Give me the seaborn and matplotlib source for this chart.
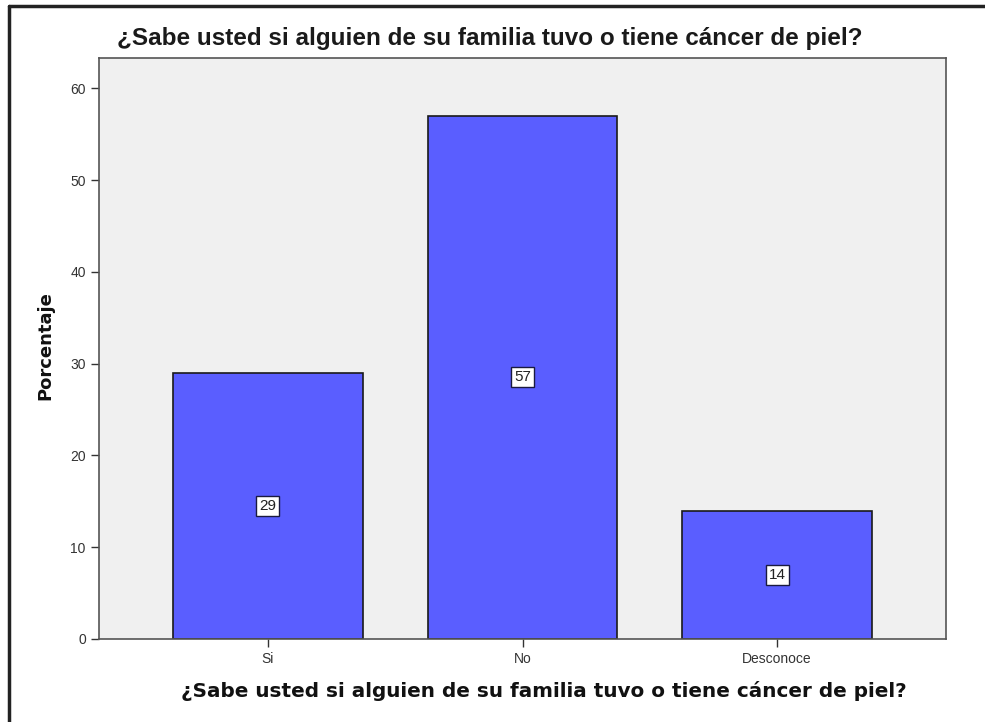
import matplotlib
matplotlib.use("Agg")
import matplotlib.pyplot as plt
import seaborn as sns
import pandas as pd
from matplotlib.lines import Line2D

# data
categories = ["Si", "No", "Desconoce"]
percentages = [29, 57, 14]
y_ticks = [0, 10, 20, 30, 40, 50, 60]

question = "¿Sabe usted si alguien de su familia tuvo o tiene cáncer de piel?"

df = pd.DataFrame({"respuesta": categories, "porcentaje": percentages})

sns.set_style("white")
plt.rcParams["font.family"] = ["Liberation Sans", "DejaVu Sans"]

fig = plt.figure(figsize=(9.85, 7.22), dpi=100)
ax = fig.add_axes([99 / 985, 83 / 722, 847 / 985, 581 / 722])
ax.set_facecolor("#F0F0F0")

sns.barplot(data=df, x="respuesta", y="porcentaje", color="#5A5EFF",
            saturation=1, width=0.745, edgecolor="#1a1a1a", linewidth=1.2, ax=ax)

# value labels in small boxes at half bar height
for i, v in enumerate(percentages):
    ax.text(i, v / 2, str(v), ha="center", va="center", fontsize=11, color="#222222",
            bbox=dict(boxstyle="square,pad=0.2", facecolor="white", edgecolor="#1a1a40", linewidth=1))

ax.set_xlim(-0.663, 2.663)
ax.set_ylim(0, 63.3)
ax.set_yticks(y_ticks)
ax.tick_params(axis="both", length=6, width=1, color="#333333", labelsize=10, labelcolor="#333333",
               direction="out", bottom=True, left=True)
for s in ax.spines.values():
    s.set_color("#555555")
    s.set_linewidth(1.2)

ax.set_xlabel(question, fontsize=14.4, fontweight="bold",
              family=["DejaVu Sans"], color="#111111")
ax.set_ylabel("Porcentaje", fontsize=13, fontweight="bold",
              family=["DejaVu Sans"], color="#111111")
ax.xaxis.set_label_coords(0.525, -0.073)
ax.yaxis.set_label_coords(-0.053, 0.505)
fig.text(490 / 985, 1 - 38 / 722, question, ha="center", va="center", fontsize=17.5, fontweight="bold",
         color="#1a1a1a")

# outer frame (top and left only)
fig.add_artist(Line2D([9 / 985, 1], [1 - 6 / 722, 1 - 6 / 722], transform=fig.transFigure,
                      color="#222222", linewidth=2.5))
fig.add_artist(Line2D([9 / 985, 9 / 985], [0, 1 - 6 / 722], transform=fig.transFigure,
                      color="#222222", linewidth=2.5))

fig.savefig("out.png", dpi=100)
